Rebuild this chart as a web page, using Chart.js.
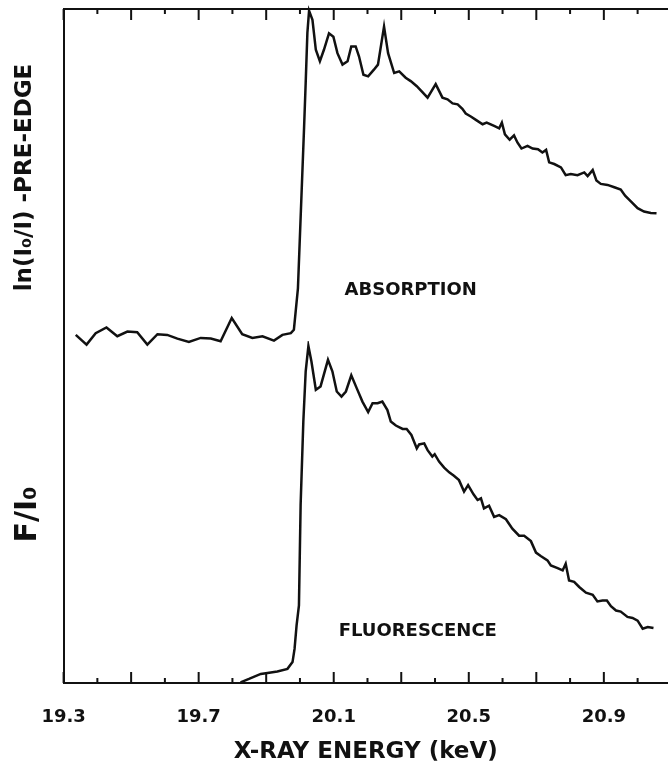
<!DOCTYPE html>
<html lang="en">
<head>
    <meta charset="UTF-8">
    <title>Absorption and fluorescence edge</title>
    <script src="https://cdn.jsdelivr.net/npm/chart.js"></script>
    <style>
        body { margin: 0; background: white; }
        .wrap { width: 668px; height: 766px; }
    </style>
</head>
<body>
    <div class="wrap"><canvas id="edgeChart"></canvas></div>

    <script>
        // X-ray energy (keV) and normalised signal
        const absX = [19.336, 19.368, 19.395, 19.427, 19.459, 19.489, 19.518, 19.548, 19.578, 19.607, 19.637, 19.671,
            19.706, 19.736, 19.765, 19.798, 19.829, 19.859, 19.889, 19.923, 19.948, 19.973, 19.982, 19.994,
            20.012, 20.017, 20.022, 20.027, 20.037, 20.047, 20.059, 20.071, 20.086, 20.099, 20.111, 20.126,
            20.141, 20.152, 20.165, 20.175, 20.188, 20.202, 20.219, 20.231, 20.249, 20.261, 20.279, 20.294,
            20.313, 20.328, 20.346, 20.378, 20.402, 20.422, 20.437, 20.452, 20.467, 20.481, 20.491, 20.506,
            20.521, 20.541, 20.553, 20.575, 20.590, 20.598, 20.607, 20.621, 20.634, 20.644, 20.656, 20.674,
            20.689, 20.705, 20.718, 20.729, 20.738, 20.753, 20.773, 20.787, 20.802, 20.822, 20.842, 20.852,
            20.867, 20.878, 20.891, 20.911, 20.931, 20.950, 20.963, 20.980, 21.000, 21.019, 21.039, 21.056];
        const absY = [0.033, 0.004, 0.038, 0.055, 0.029, 0.043, 0.041, 0.004, 0.035, 0.033, 0.022, 0.012,
            0.024, 0.022, 0.014, 0.083, 0.035, 0.024, 0.029, 0.016, 0.033, 0.038, 0.048, 0.171,
            0.643, 0.782, 0.929, 0.995, 0.968, 0.879, 0.845, 0.879, 0.928, 0.918, 0.869, 0.835,
            0.845, 0.889, 0.889, 0.859, 0.805, 0.800, 0.820, 0.835, 0.948, 0.869, 0.810, 0.815,
            0.796, 0.786, 0.771, 0.737, 0.777, 0.737, 0.732, 0.720, 0.717, 0.704, 0.690, 0.681,
            0.671, 0.658, 0.663, 0.653, 0.646, 0.663, 0.628, 0.612, 0.625, 0.604, 0.586, 0.594,
            0.586, 0.584, 0.574, 0.582, 0.545, 0.540, 0.530, 0.507, 0.510, 0.507, 0.515, 0.504,
            0.522, 0.491, 0.481, 0.478, 0.471, 0.464, 0.446, 0.429, 0.409, 0.399, 0.395, 0.394];

        const fluX = [19.824, 19.849, 19.884, 19.904, 19.933, 19.963, 19.978, 19.984, 19.990, 19.997, 20.002, 20.010,
            20.017, 20.025, 20.034, 20.047, 20.061, 20.083, 20.096, 20.109, 20.123, 20.136, 20.152, 20.168,
            20.185, 20.202, 20.215, 20.230, 20.244, 20.259, 20.269, 20.284, 20.304, 20.316, 20.330, 20.346,
            20.353, 20.368, 20.378, 20.392, 20.399, 20.412, 20.427, 20.442, 20.456, 20.471, 20.486, 20.498,
            20.514, 20.526, 20.536, 20.545, 20.560, 20.575, 20.590, 20.610, 20.629, 20.649, 20.664, 20.684,
            20.699, 20.713, 20.733, 20.743, 20.763, 20.778, 20.787, 20.797, 20.812, 20.827, 20.847, 20.867,
            20.881, 20.896, 20.909, 20.921, 20.936, 20.950, 20.970, 20.985, 21.000, 21.015, 21.030, 21.047];
        const fluY = [0.002, 0.012, 0.027, 0.030, 0.034, 0.042, 0.062, 0.101, 0.171, 0.230, 0.530, 0.776,
            0.925, 1.000, 0.954, 0.870, 0.880, 0.959, 0.925, 0.865, 0.850, 0.865, 0.913, 0.875,
            0.835, 0.804, 0.830, 0.830, 0.835, 0.810, 0.776, 0.764, 0.754, 0.754, 0.736, 0.696,
            0.708, 0.711, 0.691, 0.672, 0.679, 0.657, 0.639, 0.625, 0.615, 0.602, 0.568, 0.587,
            0.560, 0.543, 0.548, 0.518, 0.526, 0.493, 0.498, 0.486, 0.458, 0.437, 0.437, 0.421,
            0.387, 0.377, 0.364, 0.349, 0.341, 0.334, 0.354, 0.304, 0.300, 0.285, 0.268, 0.262,
            0.242, 0.245, 0.245, 0.228, 0.215, 0.212, 0.196, 0.193, 0.185, 0.161, 0.166, 0.163];

        const labelTicks = [19.3, 19.7, 20.1, 20.5, 20.9];
        const markTicks = [19.3, 19.4, 19.5, 19.6, 19.7, 19.8, 19.9, 20.0, 20.1, 20.2, 20.3, 20.4,
            20.5, 20.6, 20.7, 20.8, 20.9, 21.0];

        const panelText = ['ABSORPTION', 'FLUORESCENCE'];
        const panelX = [20.328, 20.349];
        const panelY = [0.165, 0.152];
        const panelAxis = ['yA', 'yF'];

        const ink = '#111';
        const boldFont = '"DejaVu Sans", sans-serif';

        // inward tick marks on top and bottom frame, plus the panel captions
        const frameTicks = {
            id: 'frameTicks',
            afterDraw(chart) {
                const { ctx, chartArea: a, scales } = chart;
                ctx.save();
                ctx.strokeStyle = ink;
                ctx.lineWidth = 2;
                ctx.beginPath();
                ctx.moveTo(a.left, a.top);
                ctx.lineTo(a.right, a.top);
                markTicks.forEach((v, i) => {
                    const px = scales.x.getPixelForValue(v);
                    const len = i % 2 === 0 ? 11 : 5;
                    ctx.moveTo(px, a.bottom);
                    ctx.lineTo(px, a.bottom - len);
                    ctx.moveTo(px, a.top);
                    ctx.lineTo(px, a.top + len);
                });
                ctx.stroke();

                ctx.fillStyle = ink;
                ctx.font = 'bold 18px ' + boldFont;
                ctx.textAlign = 'center';
                ctx.textBaseline = 'middle';
                panelText.forEach((t, i) => {
                    ctx.fillText(t, scales.x.getPixelForValue(panelX[i]),
                        scales[panelAxis[i]].getPixelForValue(panelY[i]));
                });
                ctx.restore();
            }
        };

        const yBase = {
            type: 'linear',
            position: 'left',
            stack: 'panels',
            stackWeight: 1,
            min: 0,
            max: 1,
            grid: { display: false, drawTicks: false },
            border: { display: true, color: ink, width: 2 },
            ticks: { display: false }
        };

        new Chart(document.getElementById('edgeChart'), {
            type: 'line',
            data: {
                datasets: [
                    {
                        label: 'Absorption',
                        data: absX.map((x, i) => ({ x: x, y: absY[i] })),
                        yAxisID: 'yA',
                        borderColor: ink,
                        borderWidth: 2.5,
                        pointRadius: 0,
                        tension: 0,
                        clip: 5
                    },
                    {
                        label: 'Fluorescence',
                        data: fluX.map((x, i) => ({ x: x, y: fluY[i] })),
                        yAxisID: 'yF',
                        borderColor: ink,
                        borderWidth: 2.5,
                        pointRadius: 0,
                        tension: 0,
                        clip: 5
                    }
                ]
            },
            options: {
                responsive: true,
                maintainAspectRatio: false,
                animation: false,
                layout: { padding: { top: 9, left: 0, right: 0, bottom: 0 } },
                plugins: { legend: { display: false }, tooltip: { enabled: false } },
                scales: {
                    x: {
                        type: 'linear',
                        min: 19.3,
                        max: 21.09,
                        afterBuildTicks: (scale) => { scale.ticks = labelTicks.map(v => ({ value: v })); },
                        afterFit: (scale) => { scale.height = 83; },
                        grid: { display: false, drawTicks: false },
                        border: { display: true, color: ink, width: 2 },
                        ticks: {
                            color: ink,
                            padding: 24,
                            autoSkip: false,
                            maxRotation: 0,
                            font: { family: boldFont, size: 18, weight: 'bold' },
                            callback: (v) => Number(v).toFixed(1)
                        },
                        title: {
                            display: true,
                            text: 'X-RAY ENERGY (keV)',
                            color: ink,
                            font: { family: boldFont, size: 23, weight: 'bold' },
                            padding: { top: 10, bottom: 0 }
                        }
                    },
                    yF: Object.assign({}, yBase, {
                        title: {
                            display: true,
                            text: 'F/I₀',
                            color: ink,
                            font: { family: boldFont, size: 30, weight: 'bold' },
                            padding: { top: 10, bottom: 17 }
                        }
                    }),
                    yA: Object.assign({}, yBase, {
                        title: {
                            display: true,
                            text: 'ln(I₀/I) -PRE-EDGE',
                            color: ink,
                            font: { family: boldFont, size: 23, weight: 'bold' },
                            padding: { top: 11, bottom: 25 }
                        }
                    })
                }
            },
            plugins: [frameTicks]
        });
    </script>
</body>
</html>
